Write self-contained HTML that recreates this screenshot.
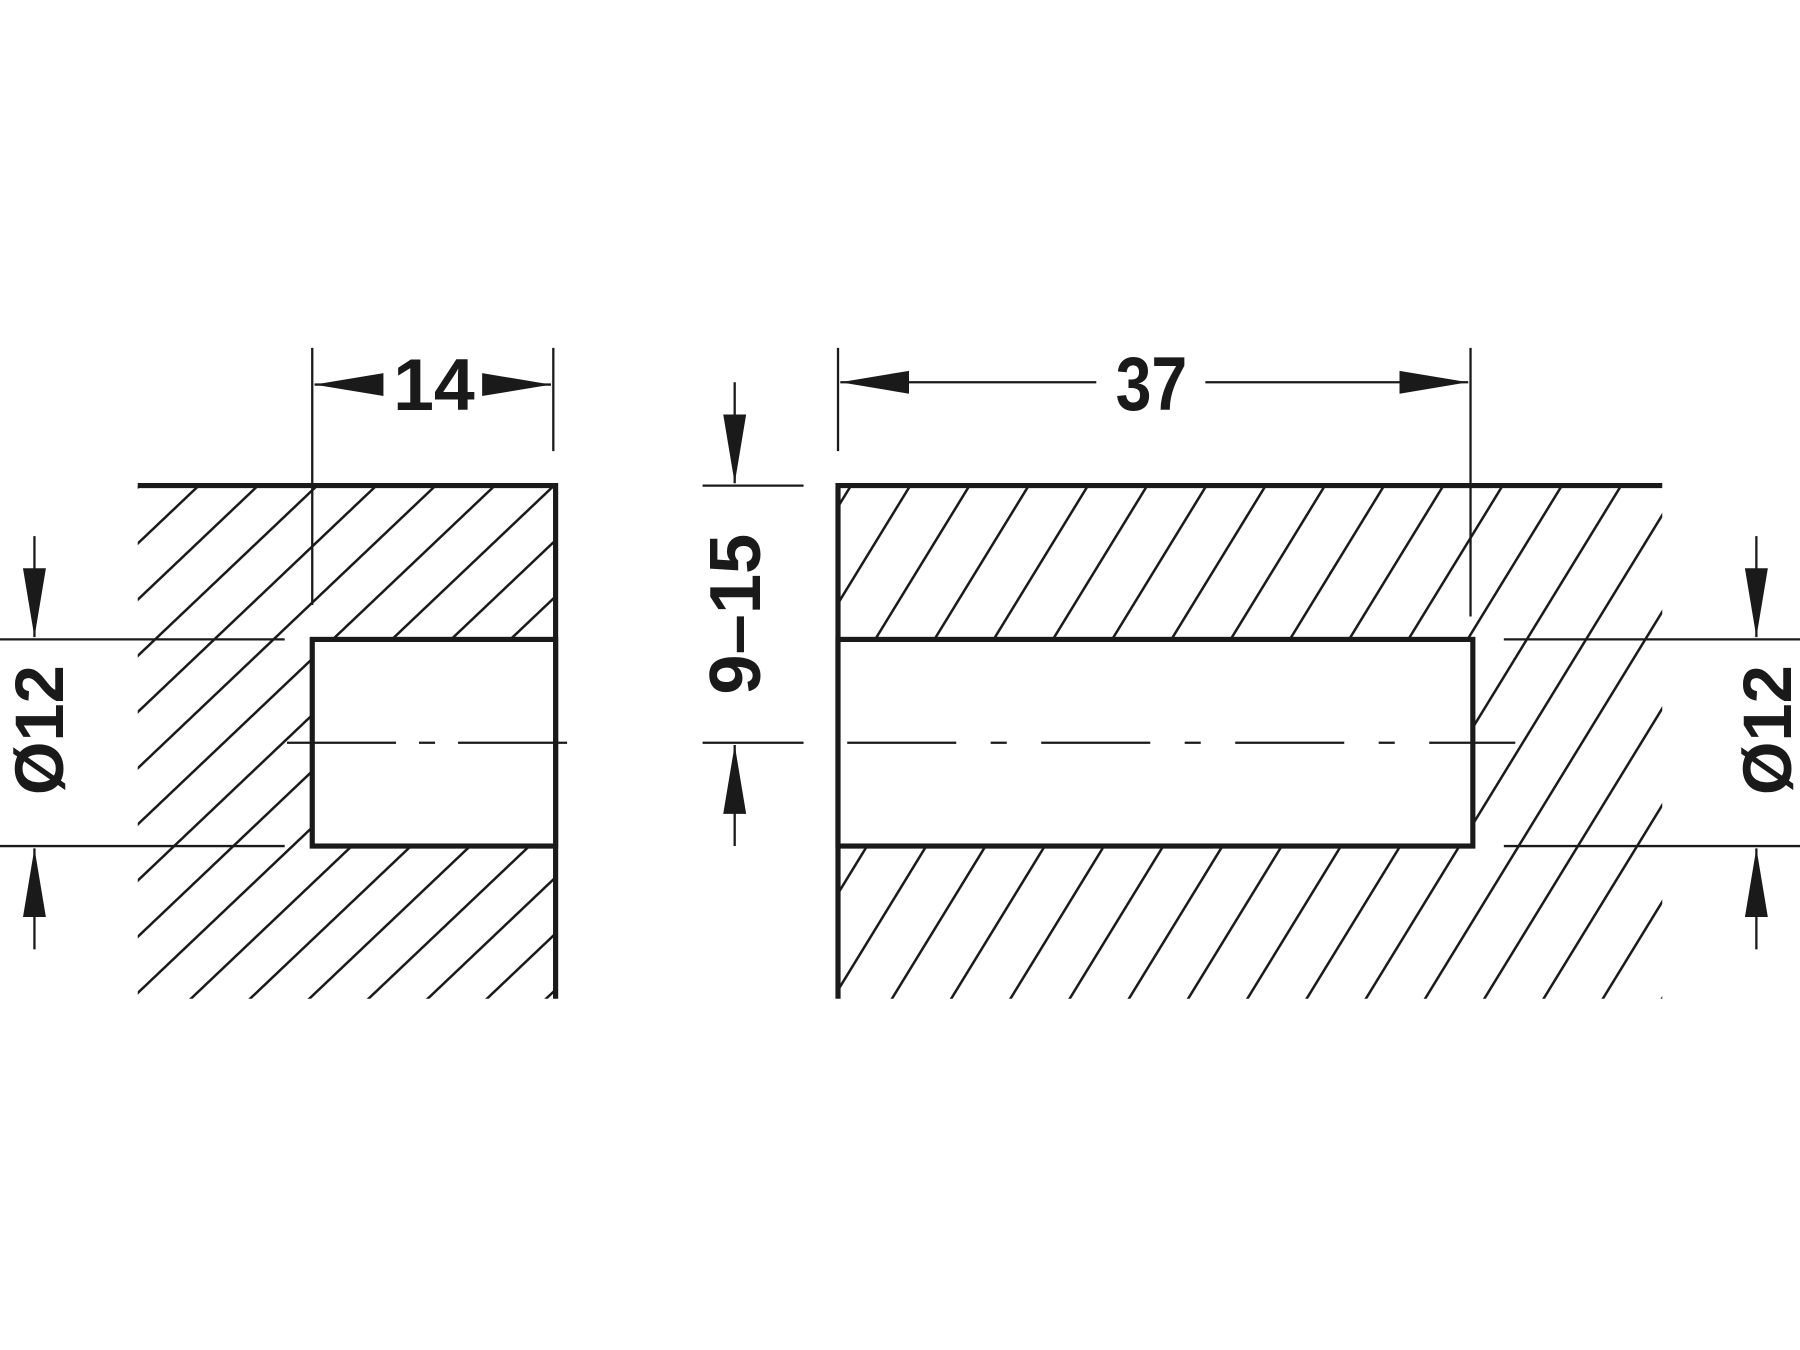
<!DOCTYPE html>
<html><head><meta charset="utf-8"><style>
html,body{margin:0;padding:0;background:#fff}
svg{display:block}
text{font-family:"Liberation Sans",Arial,sans-serif;font-weight:bold;fill:#1a1a1a}
</style></head><body>
<svg width="1800" height="1350" viewBox="0 0 1568 1176" xmlns="http://www.w3.org/2000/svg">
<defs>
<pattern id="hl" patternUnits="userSpaceOnUse" width="35.5" height="40" patternTransform="translate(120,423) rotate(46.5)">
<line x1="1" y1="-5" x2="1" y2="45" stroke="#1a1a1a" stroke-width="2.4"/>
</pattern>
<pattern id="hr" patternUnits="userSpaceOnUse" width="44" height="40" patternTransform="translate(740,423) rotate(31.5)">
<line x1="1" y1="-5" x2="1" y2="45" stroke="#1a1a1a" stroke-width="2.4"/>
</pattern>
<marker id="a" viewBox="0 0 60 22" refX="60" refY="11" markerWidth="60" markerHeight="22" markerUnits="userSpaceOnUse" orient="auto">
<path d="M0,1 L60,11 L0,21 Z" fill="#1a1a1a"/>
</marker>
</defs>
<g fill-rule="evenodd">
<path d="M120,423 H484 V870 H120 Z M272,557 H484 V737 H272 Z" fill="url(#hl)"/>
<path d="M730,423 H1448 V870 H730 Z M730,557 H1283 V737 H730 Z" fill="url(#hr)"/>
</g>
<g stroke="#1a1a1a" fill="none">
<polyline points="120,423 484,423 484,870" stroke-width="4.5"/>
<rect x="272" y="557" width="212" height="180" stroke-width="4.5" fill="#fff"/>
<polyline points="1448,423 730,423 730,870" stroke-width="4.5"/>
<rect x="730" y="557" width="553" height="180" stroke-width="4.5" fill="#fff"/>
<g stroke-width="2">
<line x1="272" y1="303" x2="272" y2="527"/>
<line x1="482" y1="303" x2="482" y2="393"/>
<line x1="730" y1="303" x2="730" y2="393"/>
<line x1="1281" y1="303" x2="1281" y2="537"/>
<line x1="0" y1="557" x2="248" y2="557"/>
<line x1="0" y1="737" x2="248" y2="737"/>
<line x1="1310" y1="557" x2="1568" y2="557"/>
<line x1="1310" y1="737" x2="1568" y2="737"/>
<line x1="612" y1="423" x2="700" y2="423"/>
<line x1="612" y1="647" x2="700" y2="647"/>
<line x1="250" y1="647" x2="502" y2="647" stroke-dasharray="95,20,14,20"/>
<line x1="738" y1="647" x2="1320" y2="647" stroke-dasharray="95,30,14,30"/>
<line x1="330" y1="335" x2="274" y2="335" marker-end="url(#a)"/>
<line x1="424" y1="335" x2="480" y2="335" marker-end="url(#a)"/>
<line x1="955" y1="333" x2="732" y2="333" marker-end="url(#a)"/>
<line x1="1050" y1="333" x2="1279" y2="333" marker-end="url(#a)"/>
<line x1="640" y1="333" x2="640" y2="421" marker-end="url(#a)"/>
<line x1="640" y1="737" x2="640" y2="649" marker-end="url(#a)"/>
<line x1="30" y1="467" x2="30" y2="555" marker-end="url(#a)"/>
<line x1="30" y1="827" x2="30" y2="739" marker-end="url(#a)"/>
<line x1="1530" y1="467" x2="1530" y2="555" marker-end="url(#a)"/>
<line x1="1530" y1="827" x2="1530" y2="739" marker-end="url(#a)"/>
</g>
</g>
<text x="378" y="357" font-size="64" text-anchor="middle">14</text>
<text x="1003" y="357" font-size="66" text-anchor="middle" transform="translate(1003,0) scale(0.85,1) translate(-1003,0)">37</text>
<text transform="translate(662,535) rotate(-90)" font-size="63" text-anchor="middle">9–15</text>
<text transform="translate(55,636) rotate(-90)" font-size="60" text-anchor="middle">Ø12</text>
<text transform="translate(1560,636) rotate(-90)" font-size="60" text-anchor="middle">Ø12</text>
</svg>
</body></html>
